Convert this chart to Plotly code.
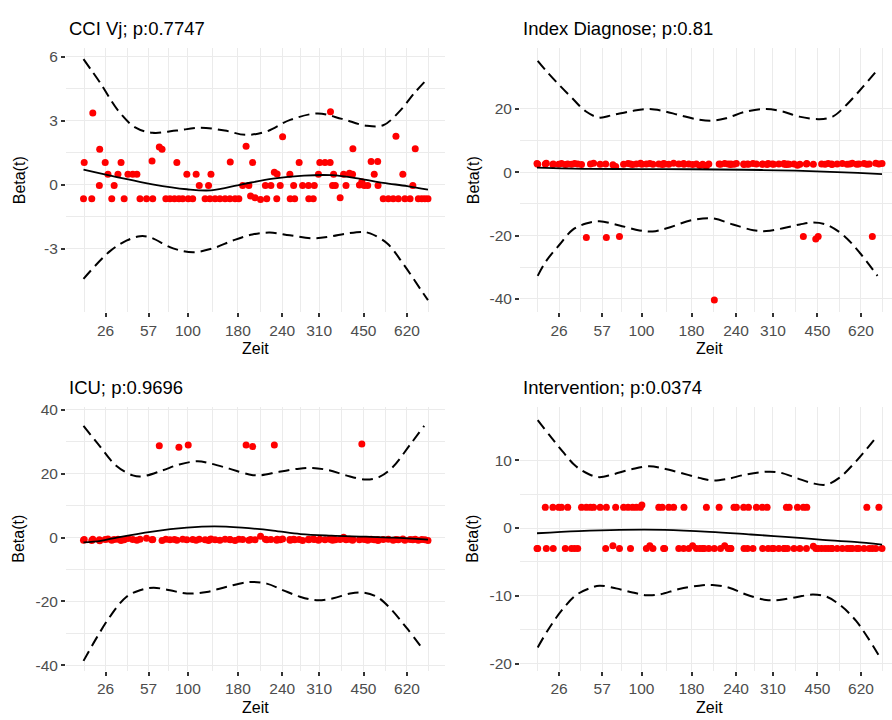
import plotly.graph_objects as go

W, H = 892, 720

# Zeit axis: transformed (KM-scale) positions of the labelled days
tick_days = [26, 57, 100, 180, 240, 310, 450, 620]
tick_pos = [0.064, 0.189, 0.303, 0.448, 0.577, 0.684, 0.813, 0.939]

# transformed event times shared by all four covariates
event_x = [0.000, 0.002, 0.024, 0.027, 0.046, 0.047, 0.063, 0.071, 0.082, 0.089,
           0.100, 0.109, 0.118, 0.129, 0.143, 0.155, 0.164, 0.183, 0.199, 0.201,
           0.220, 0.228, 0.239, 0.251, 0.264, 0.271, 0.277, 0.288, 0.300, 0.304,
           0.317, 0.327, 0.336, 0.353, 0.363, 0.367, 0.370, 0.382, 0.396, 0.411,
           0.425, 0.426, 0.440, 0.451, 0.462, 0.472, 0.480, 0.485, 0.491, 0.498,
           0.514, 0.528, 0.532, 0.544, 0.554, 0.561, 0.562, 0.571, 0.578, 0.599,
           0.600, 0.610, 0.613, 0.626, 0.636, 0.653, 0.654, 0.667, 0.670, 0.682,
           0.686, 0.701, 0.716, 0.717, 0.723, 0.726, 0.731, 0.745, 0.755, 0.762,
           0.772, 0.781, 0.782, 0.801, 0.808, 0.815, 0.825, 0.835, 0.844, 0.854,
           0.855, 0.870, 0.885, 0.899, 0.907, 0.914, 0.927, 0.933, 0.948, 0.956,
           0.963, 0.972, 0.982, 0.991, 1.000]

# scaled Schoenfeld residuals per covariate
resid_cci = [-0.65, 1.05, -0.65, 3.37, -0.03, 1.67, 1.05, 0.5, -0.65, -0.03,
             0.5, 1.05, -0.65, 0.5, 0.5, 0.5, -0.65, -0.65, 1.12, -0.65,
             1.78, 1.67, -0.65, -0.65, -0.65, 1.05, -0.65, -0.65, 0.5, -0.65,
             -0.65, 0.5, -0.03, -0.65, -0.03, -0.65, 0.5, -0.65, -0.65, -0.65,
             -0.65, 1.08, -0.65, -0.65, -0.03, 1.82, -0.03, -0.52, 1.05, -0.6,
             -0.68, -0.03, -0.65, -0.03, 0.6, -0.65, 0.52, -0.03, 2.26, 0.5,
             -0.65, -0.03, -0.65, 1.05, -0.03, -0.03, -0.65, -0.65, -0.03, 0.5,
             1.05, 1.05, 1.05, 3.43, -0.03, 0.5, -0.03, -0.6, 0.5, -0.03,
             0.55, 0.5, 1.7, 0.0, 0.15, -0.03, -0.03, 1.1, 0.5, 1.1,
             -0.03, -0.65, -0.65, -0.65, 2.29, -0.65, 0.5, -0.65, -0.65, -0.03,
             1.7, -0.65, -0.65, -0.65, -0.65]

resid_index = [2.7, 2.5, 2.6, 2.8, 2.4, 2.6, 2.5, 2.7, 2.4, 2.6,
               2.5, 2.7, 2.6, 2.4, -20.6, 2.6, 2.8, 2.5, 2.6, -20.6,
               2.3, 1.8, -20.3, 2.5, 2.7, 2.6, 2.4, 2.6, 2.8, 2.5,
               2.6, 2.7, 2.5, 2.6, 2.4, 2.7, 2.6, 2.5, 2.8, 2.6,
               2.7, 2.5, 2.6, 2.4, 2.6, 2.1, 2.5, 2.2, 1.9, 2.6,
               -40.3, 2.6, 2.5, 2.7, 2.6, 2.4, 2.6, 2.5, 2.7, 2.6,
               2.4, 2.6, 2.5, 2.7, 2.6, 2.5, 2.6, 2.4, 2.7, 2.6,
               2.5, 2.6, 2.7, 2.5, 2.4, 2.6, 2.5, 2.6, 2.2, 2.5,
               -20.3, 2.6, 2.7, 2.5, -21.1, -20.3, 2.6, 2.5, 2.7, 2.6,
               2.4, 2.6, 2.7, 2.5, 2.6, 2.8, 2.5, 2.6, 2.7, 2.5,
               2.6, -20.3, 2.8, 2.6, 2.7]

resid_icu = [-0.8, -0.6, -0.9, -0.5, -0.7, -1.0, -0.6, -0.4, -0.8, -0.6,
             -0.5, -0.9, -0.7, -0.3, -0.6, -0.8, -0.5, -0.2, -0.7, -0.6,
             28.8, -0.9, -0.5, -0.7, -0.6, -0.8, 28.3, -0.5, -0.7, 29.0,
             -0.6, -0.8, -0.5, -0.7, -0.9, -0.6, -0.4, -0.7, -0.8, -0.5,
             -0.6, -0.7, -0.9, -0.5, -0.6, 29.0, -0.8, -0.6, 28.5, -0.7,
             0.4, -0.5, -0.7, -0.6, 29.0, -0.8, -0.5, -0.7, -0.4, -0.6,
             -0.8, -0.5, -0.7, -0.6, -0.9, -0.5, -0.7, -0.4, -0.6, -0.8,
             -0.5, -0.7, -0.3, -0.6, -0.8, -0.5, -0.7, -0.6, 0.1, -0.7,
             -0.5, -0.8, -0.6, -0.7, 29.3, -0.6, -0.8, -0.5, -0.7, -0.6,
             -0.9, -0.6, -0.5, -0.8, -0.6, -0.7, -0.4, -0.8, -0.6, -0.7,
             -0.5, -0.8, -0.6, -0.7, -0.9]

resid_interv = [-3.0, -3.0, 3.05, -3.0, 3.05, -3.0, 3.05, 3.05, -3.0, 3.05,
                -3.0, -3.0, -3.0, 3.05, 3.05, 3.05, 3.05, 3.05, -3.0, 3.05,
                -2.6, 3.05, -3.0, 3.05, 3.05, -3.0, 3.05, 3.05, 3.05, 3.4,
                -3.0, -2.6, -3.0, 3.05, 3.05, -3.0, -3.0, 3.05, 3.05, -3.0,
                -3.0, 3.05, -3.0, -2.6, -3.0, -3.0, -3.0, -3.0, 3.05, -3.0,
                -3.0, 3.05, -3.0, -2.6, -3.0, -3.0, -3.0, 3.05, 3.05, 3.05,
                -3.0, -3.0, 3.05, -3.0, 3.05, 3.05, -3.0, 3.05, -3.0, -3.0,
                -3.0, -3.0, -3.0, -3.0, 3.05, -3.0, 3.05, -3.0, 3.05, -3.0,
                3.05, -3.0, 3.05, -2.7, -3.0, -3.0, -3.0, -3.0, -3.0, -3.0,
                -3.0, -3.0, -3.0, -3.0, -3.0, -3.0, -3.0, -3.0, -3.0, 3.05,
                -3.0, -3.0, -3.0, 3.05, -3.0]

# smoothed Beta(t) and its confidence band
cci_fit_x = [0.0, 0.1, 0.2, 0.3, 0.37, 0.46, 0.55, 0.64, 0.72, 0.8, 0.87, 0.94, 1.0]
cci_fit = [0.72, 0.36, 0.03, -0.2, -0.25, 0.03, 0.3, 0.44, 0.46, 0.3, 0.1, -0.05, -0.22]
cci_up_x = [0.0, 0.05, 0.1, 0.15, 0.2, 0.27, 0.34, 0.41, 0.47, 0.53, 0.6, 0.68, 0.75,
            0.82, 0.87, 0.92, 0.96, 1.0]
cci_up = [5.9, 4.75, 3.5, 2.7, 2.45, 2.55, 2.68, 2.55, 2.35, 2.5, 3.05, 3.35, 3.1,
          2.78, 2.8, 3.5, 4.3, 5.0]
cci_lo_x = [0.0, 0.077, 0.126, 0.164, 0.193, 0.26, 0.318, 0.376, 0.434, 0.49, 0.541,
            0.599, 0.666, 0.715, 0.765, 0.811, 0.832, 0.881, 0.927, 0.985, 1.0]
cci_lo = [-4.4, -3.1, -2.6, -2.4, -2.45, -2.97, -3.15, -2.97, -2.6, -2.32, -2.23,
          -2.36, -2.5, -2.42, -2.27, -2.2, -2.27, -2.73, -3.67, -5.05, -5.4]

index_fit_x = [0.0, 0.15, 0.3, 0.45, 0.6, 0.75, 0.85, 0.93, 1.0]
index_fit = [1.45, 1.05, 0.95, 0.9, 0.75, 0.45, 0.1, -0.25, -0.6]
index_up_x = [0.002, 0.026, 0.065, 0.103, 0.142, 0.181, 0.219, 0.277, 0.326, 0.364,
              0.412, 0.47, 0.509, 0.548, 0.606, 0.664, 0.712, 0.76, 0.818, 0.857,
              0.896, 0.944, 0.989]
index_up = [35.1, 32.0, 27.4, 23.2, 19.1, 17.2, 18.0, 19.3, 19.9, 19.3,
            18.0, 16.5, 16.2, 17.0, 19.1, 19.9, 19.1, 17.5, 16.7, 17.5,
            21.1, 26.8, 32.5]
index_lo_x = [0.002, 0.026, 0.065, 0.103, 0.142, 0.181, 0.239, 0.297, 0.335, 0.376,
              0.451, 0.509, 0.568, 0.627, 0.665, 0.713, 0.762, 0.801, 0.840, 0.887,
              0.936, 0.987]
index_lo = [-32.7, -28.1, -22.9, -18.2, -16.2, -15.5, -16.8, -18.4, -18.7, -17.7,
            -15.1, -14.6, -16.5, -18.3, -18.6, -17.7, -16.5, -15.9, -16.6, -19.8,
            -25.5, -32.7]

icu_fit_x = [0.0, 0.05, 0.1, 0.2, 0.3, 0.38, 0.46, 0.55, 0.63, 0.72, 0.82, 0.9, 1.0]
icu_fit = [-1.5, -1.0, 0.1, 1.9, 3.1, 3.5, 3.1, 2.2, 1.1, 0.6, 0.3, 0.0, -0.6]
icu_up_x = [0.0, 0.046, 0.094, 0.143, 0.172, 0.23, 0.278, 0.331, 0.365, 0.423, 0.481,
            0.51, 0.568, 0.626, 0.665, 0.713, 0.762, 0.82, 0.859, 0.898, 0.946, 0.989]
icu_up = [35.0, 28.8, 22.6, 19.5, 19.2, 21.1, 22.9, 23.9, 23.3, 21.6, 19.8,
          19.5, 20.6, 21.6, 21.8, 21.1, 19.5, 18.2, 19.0, 22.1, 28.8, 35.0]
icu_lo_x = [0.0, 0.038, 0.077, 0.125, 0.164, 0.203, 0.251, 0.3, 0.358, 0.416, 0.483,
            0.532, 0.58, 0.628, 0.677, 0.725, 0.774, 0.812, 0.851, 0.89, 0.938, 0.986]
icu_lo = [-38.6, -31.4, -24.7, -18.5, -16.5, -15.7, -16.5, -17.5, -17.0, -15.4, -13.9,
          -14.4, -16.5, -18.5, -19.6, -19.0, -17.5, -17.2, -18.5, -22.1, -28.3, -35.0]

interv_fit_x = [0.0, 0.12, 0.24, 0.37, 0.5, 0.62, 0.72, 0.82, 0.92, 1.0]
interv_fit = [-0.77, -0.45, -0.27, -0.27, -0.55, -0.95, -1.3, -1.7, -2.05, -2.45]
interv_up_x = [0.002, 0.036, 0.074, 0.113, 0.152, 0.181, 0.219, 0.277, 0.326, 0.364,
               0.412, 0.47, 0.509, 0.548, 0.606, 0.664, 0.702, 0.751, 0.799, 0.838,
               0.876, 0.924, 0.988]
interv_up = [15.9, 13.7, 11.3, 9.1, 7.9, 7.5, 7.9, 8.7, 9.1, 8.8,
             8.2, 7.4, 7.0, 7.2, 7.9, 8.3, 8.2, 7.4, 6.6, 6.4,
             7.4, 9.8, 13.7]
interv_lo_x = [0.002, 0.036, 0.074, 0.113, 0.152, 0.181, 0.229, 0.277, 0.316, 0.354,
               0.412, 0.47, 0.509, 0.557, 0.606, 0.664, 0.702, 0.751, 0.799, 0.838,
               0.877, 0.925, 0.997]
interv_lo = [-17.6, -14.7, -12.0, -9.9, -8.9, -8.5, -8.9, -9.5, -9.9, -9.8,
             -9.0, -8.5, -8.4, -8.8, -9.8, -10.6, -10.6, -10.2, -9.8, -10.1,
             -11.3, -13.7, -19.3]

titles = ["CCI Vj; p:0.7747", "Index Diagnose; p:0.81", "ICU; p:0.9696", "Intervention; p:0.0374"]
y_ticks = [[-3, 0, 3, 6], [-40, -20, 0, 20], [-40, -20, 0, 20, 40], [-20, -10, 0, 10]]

panels = [
    dict(resid=resid_cci, fit=(cci_fit_x, cci_fit), up=(cci_up_x, cci_up), lo=(cci_lo_x, cci_lo)),
    dict(resid=resid_index, fit=(index_fit_x, index_fit), up=(index_up_x, index_up), lo=(index_lo_x, index_lo)),
    dict(resid=resid_icu, fit=(icu_fit_x, icu_fit), up=(icu_up_x, icu_up), lo=(icu_lo_x, icu_lo)),
    dict(resid=resid_interv, fit=(interv_fit_x, interv_fit), up=(interv_up_x, interv_up), lo=(interv_lo_x, interv_lo)),
]

# panel geometry in pixels: (left, right, top, bottom), plus axis ranges
boxes = [(66, 445, 43, 310), (520, 892, 43, 310), (66, 445, 406, 673), (520, 892, 406, 673)]
x_ranges = [[-0.0508, 1.0494], [-0.0493, 1.029], [-0.0508, 1.0494], [-0.0493, 1.029]]
y_ranges = [[-5.96, 6.40], [-44.14, 38.99], [-41.64, 40.93], [-21.02, 17.86]]

FONT = "Liberation Sans, Arial, Helvetica, sans-serif"
GRID = "#EBEBEB"


def minor_between(vals, extend):
    mids = [(a + b) / 2 for a, b in zip(vals[:-1], vals[1:])]
    if extend:
        mids = [vals[0] - (vals[1] - vals[0]) / 2] + mids + [vals[-1] + (vals[-1] - vals[-2]) / 2]
    return mids


x_minor = minor_between(tick_pos, True)

fig = go.Figure()
layout = dict(
    width=W, height=H,
    margin=dict(l=0, r=0, t=0, b=0),
    paper_bgcolor="white", plot_bgcolor="white",
    showlegend=False,
    font=dict(family=FONT, color="black"),
)
annotations = []

for i, p in enumerate(panels):
    n = i + 1
    xa = "x" if n == 1 else f"x{n}"
    ya = "y" if n == 1 else f"y{n}"
    left, right, top, bottom = boxes[i]

    fig.add_trace(go.Scatter(
        x=event_x, y=p["resid"], mode="markers", xaxis=xa, yaxis=ya,
        marker=dict(color="#FF0000", size=7, line=dict(width=0)), hoverinfo="skip"))
    fig.add_trace(go.Scatter(
        x=p["fit"][0], y=p["fit"][1], mode="lines", xaxis=xa, yaxis=ya,
        line=dict(color="black", width=1.8, shape="spline", smoothing=1.0)))
    for key in ("up", "lo"):
        fig.add_trace(go.Scatter(
            x=p[key][0], y=p[key][1], mode="lines", xaxis=xa, yaxis=ya,
            line=dict(color="black", width=2, dash="11px,6px", shape="spline", smoothing=1.0)))

    yt = y_ticks[i]
    common = dict(
        showline=False, zeroline=False, showgrid=True, gridcolor=GRID, gridwidth=1.4,
        ticks="outside", ticklen=4, tickwidth=1.6, tickcolor="#333333",
        tickfont=dict(family=FONT, size=15.5, color="#4D4D4D"),
    )
    layout["xaxis" if n == 1 else f"xaxis{n}"] = dict(
        common, domain=[left / W, right / W], anchor=ya, range=x_ranges[i],
        tickmode="array", tickvals=tick_pos, ticktext=[str(d) for d in tick_days],
        minor=dict(tickmode="array", tickvals=x_minor, showgrid=True, gridcolor=GRID,
                   gridwidth=0.9, ticks=""),
    )
    layout["yaxis" if n == 1 else f"yaxis{n}"] = dict(
        common, domain=[1 - bottom / H, 1 - top / H], anchor=xa, range=y_ranges[i],
        tickmode="array", tickvals=yt, ticktext=[str(v) for v in yt],
        minor=dict(tickmode="array", tickvals=minor_between(yt, False), showgrid=True,
                   gridcolor=GRID, gridwidth=0.9, ticks=""),
    )

    # panel title
    annotations.append(dict(
        text=titles[i], xref="paper", yref="paper", x=(left + 1) / W, y=1 - (top - 20) / H,
        xanchor="left", yanchor="middle", showarrow=False,
        font=dict(family=FONT, size=18.5, color="black")))
    # axis titles
    annotations.append(dict(
        text="Zeit", xref="paper", yref="paper", x=(left + right) / 2 / W if i % 2 == 0 else (left + 379 / 2) / W,
        y=1 - (bottom + 37) / H, xanchor="center", yanchor="middle", showarrow=False,
        font=dict(family=FONT, size=16, color="black")))
    annotations.append(dict(
        text="Beta(t)", xref="paper", yref="paper", x=(left - 47) / W, y=1 - (top + bottom) / 2 / H,
        xanchor="center", yanchor="middle", textangle=-90, showarrow=False,
        font=dict(family=FONT, size=16, color="black")))

layout["annotations"] = annotations
fig.update_layout(**layout)
fig.write_html("out.html")
